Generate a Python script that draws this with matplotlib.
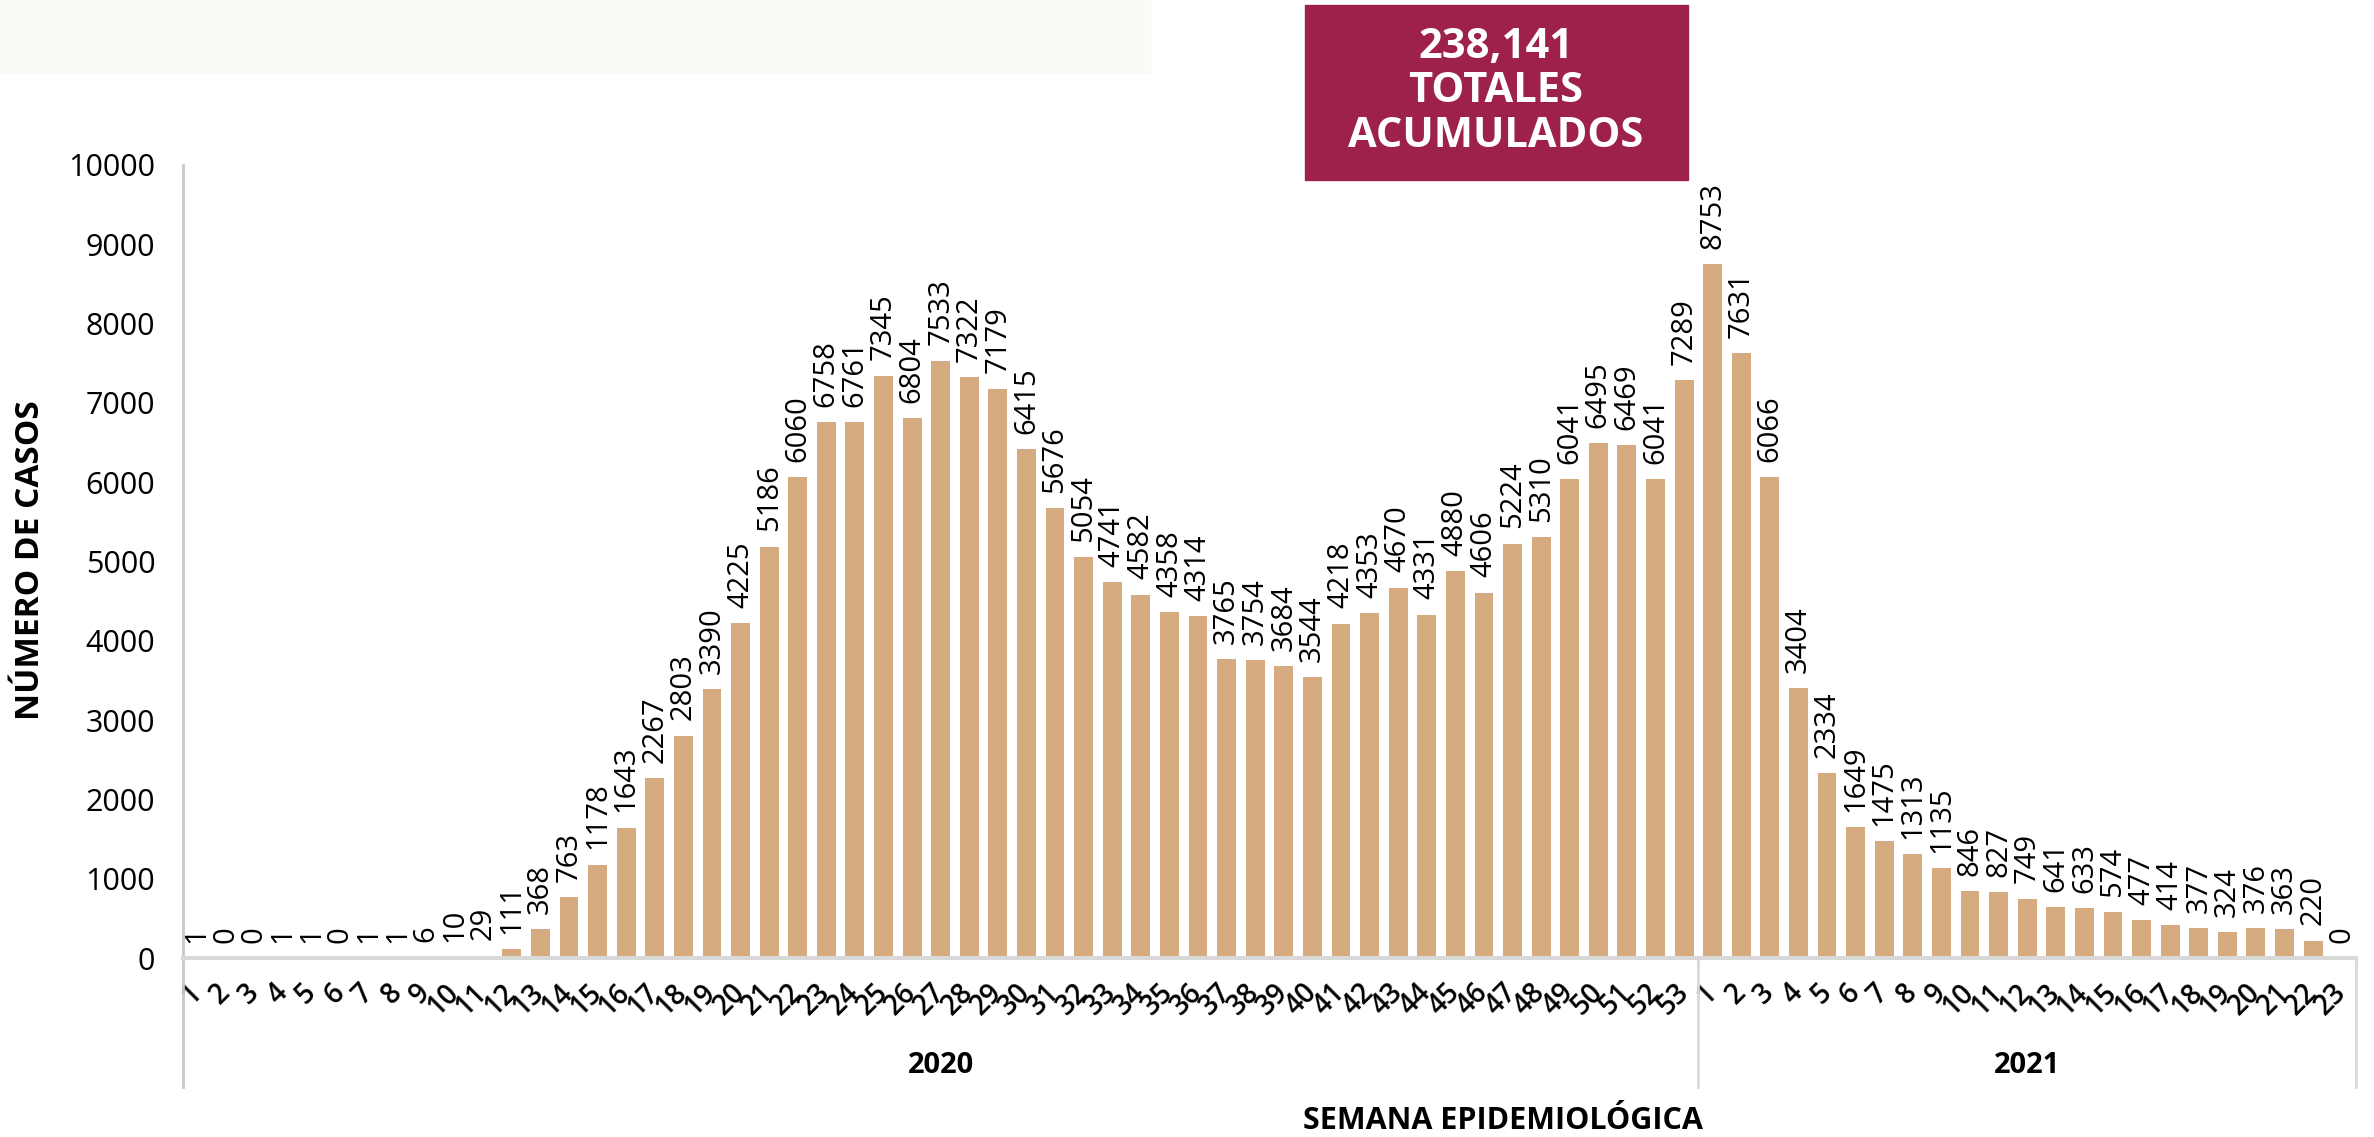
import matplotlib
matplotlib.use("Agg")
import matplotlib.pyplot as plt
from matplotlib.patches import Rectangle

plt.rcParams["font.family"] = ["Open Sans", "DejaVu Sans"]

# ---------------------------------------------------------------------------
# Data: weekly cases, epidemiological weeks 2020 (1-53) and 2021 (1-23)
# ---------------------------------------------------------------------------
weeks_2020 = list(range(1, 54))
cases_2020 = [1, 0, 0, 1, 1, 0, 1, 1, 6, 10, 29, 111, 368, 763, 1178, 1643,
              2267, 2803, 3390, 4225, 5186, 6060, 6758, 6761, 7345, 6804,
              7533, 7322, 7179, 6415, 5676, 5054, 4741, 4582, 4358, 4314,
              3765, 3754, 3684, 3544, 4218, 4353, 4670, 4331, 4880, 4606,
              5224, 5310, 6041, 6495, 6469, 6041, 7289]
weeks_2021 = list(range(1, 24))
cases_2021 = [8753, 7631, 6066, 3404, 2334, 1649, 1475, 1313, 1135, 846, 827,
              749, 641, 633, 574, 477, 414, 377, 324, 376, 363, 220, 0]
years = ["2020", "2021"]
total_label = "238,141\nTOTALES\nACUMULADOS"
y_ticks = [0, 1000, 2000, 3000, 4000, 5000, 6000, 7000, 8000, 9000, 10000]

BAR = "#D5AB7F"
MAROON = "#9D2148"
GRID = "#D9D9D9"

W, H = 2374, 1137
fig = plt.figure(figsize=(W / 100, H / 100), dpi=100)

# faint decorative band top-left
fig.patches.append(Rectangle((0, 1 - 73 / H), 1150 / W, 73 / H,
                             transform=fig.transFigure, color="#FCFAF6",
                             zorder=0))

ax = fig.add_axes([183 / W, 1 - 958 / H, (2356 - 183) / W, (958 - 165) / H])

values = cases_2020 + cases_2021
labels = [str(w) for w in weeks_2020] + [str(w) for w in weeks_2021]
x = list(range(len(values)))

ax.bar(x, values, width=0.66, color=BAR, edgecolor="none", zorder=2)

for xi, v in zip(x, values):
    ax.annotate(str(v), xy=(xi, v), xytext=(0, 11), textcoords="offset points",
                rotation=90, ha="center", va="bottom", fontsize=21,
                color="black")

n = len(values)
ax.set_xlim(-0.5, n - 0.5)
ax.set_ylim(0, 10000)
ax.set_yticks(y_ticks)
ax.set_yticklabels([str(t) for t in y_ticks], fontsize=22)
ax.tick_params(axis="y", length=0, pad=20)

ax.set_xticks(x)
ax.set_xticklabels(labels, fontsize=20, rotation=45, ha="right",
                   va="center", rotation_mode="anchor", fontweight="semibold")
ax.tick_params(axis="x", length=0, pad=22)

for s in ax.spines.values():
    s.set_visible(False)

# axis lines and category group separators
trans = ax.get_xaxis_transform()
low = -0.163
ax.plot([-0.5, -0.5], [low, 1.0], transform=trans, color="#C8C8C8", lw=2,
        clip_on=False, zorder=3)
ax.plot([-0.5, n - 0.5], [0, 0], transform=trans, color=GRID, lw=3,
        clip_on=False, zorder=3)
split = len(cases_2020) - 0.5
for xv in (split, n - 0.5):
    ax.plot([xv, xv], [low, 0], transform=trans, color=GRID, lw=2,
            clip_on=False, zorder=3)

# year labels
ax.text((-0.5 + split) / 2, -0.136, years[0], transform=trans, ha="center",
        va="center", fontsize=21, fontweight="bold")
ax.text((split + n - 0.5) / 2, -0.136, years[1], transform=trans, ha="center",
        va="center", fontsize=21, fontweight="bold")

fig.text(1503 / W, 1 - 1121 / H, "SEMANA EPIDEMIOLÓGICA", ha="center",
         va="center", fontsize=22, fontweight="bold")
fig.text(31 / W, 1 - 560 / H, "NÚMERO DE CASOS", ha="center", va="center",
         rotation=90, fontsize=24, fontweight="bold")

# totals box
fig.patches.append(Rectangle((1305 / W, 1 - 180 / H), (1688 - 1305) / W,
                             175 / H, transform=fig.transFigure,
                             color=MAROON, zorder=1))
fig.text(1496 / W, 1 - 92 / H, total_label, ha="center", va="center",
         color="white", fontsize=30, fontweight="bold", linespacing=1.1)

fig.savefig("out.png", dpi=100)
